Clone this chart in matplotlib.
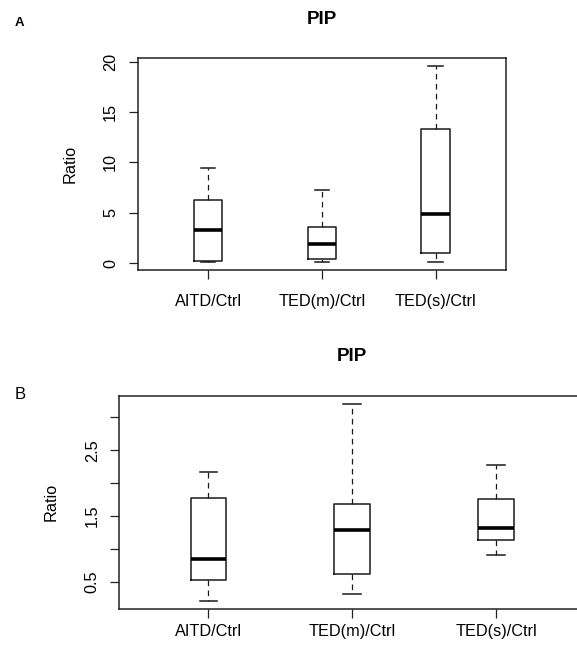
import matplotlib
matplotlib.use("Agg")
import matplotlib.pyplot as plt

plt.rcParams["font.family"] = ["Liberation Sans", "DejaVu Sans"]

groups = ["AITD/Ctrl", "TED(m)/Ctrl", "TED(s)/Ctrl"]

# panel A: whisker low, Q1, median, Q3, whisker high
a_lo = [0.10, 0.10, 0.10]
a_q1 = [0.20, 0.40, 1.05]
a_med = [3.30, 1.88, 4.86]
a_q3 = [6.28, 3.63, 13.30]
a_hi = [9.42, 7.27, 19.54]
a_ticks = [0, 5, 10, 15, 20]
a_ticklabels = ["0", "5", "10", "15", "20"]

# panel B
b_lo = [0.21, 0.31, 0.90]
b_q1 = [0.52, 0.61, 1.13]
b_med = [0.84, 1.29, 1.32]
b_q3 = [1.78, 1.68, 1.76]
b_hi = [2.17, 3.21, 2.27]
b_ticks = [0.5, 1.0, 1.5, 2.0, 2.5, 3.0]
b_ticklabels = ["0.5", "", "1.5", "", "2.5", ""]

W, H = 577, 648
fig = plt.figure(figsize=(W / 100, H / 100), dpi=100)


def px_axes(left, top, right, bottom):
    return fig.add_axes([left / W, 1 - bottom / H, (right - left) / W, (bottom - top) / H])


def draw_panel(ax, lo, q1, med, q3, hi, ticks, ticklabels, xpad):
    stats = [
        dict(whislo=l, q1=a, med=m, q3=b, whishi=h, fliers=[])
        for l, a, m, b, h in zip(lo, q1, med, q3, hi)
    ]
    ax.bxp(
        stats,
        positions=[1, 2, 3],
        widths=0.25,
        capwidths=0.125,
        showfliers=False,
        boxprops=dict(color="#1a1a1a", linewidth=1.1),
        medianprops=dict(color="black", linewidth=2.6, solid_capstyle="butt"),
        whiskerprops=dict(color="#1a1a1a", linewidth=0.9, linestyle=(0, (4.5, 3.5))),
        capprops=dict(color="#1a1a1a", linewidth=1.1),
    )
    # R-style 4% padding around the data range
    span = max(hi) - min(lo)
    ax.set_ylim(min(lo) - 0.04 * span, max(hi) + 0.04 * span)
    ax.set_xlim(0.38, 3.62)
    ax.set_xticks([1, 2, 3])
    ax.set_xticklabels(groups, fontsize=11.7)
    ax.set_yticks(ticks)
    ax.set_yticklabels(ticklabels, fontsize=11.7, rotation=90, va="center")
    ax.tick_params(axis="both", length=6.5, width=0.9, color="#222222")
    ax.tick_params(axis="y", pad=7.5)
    ax.tick_params(axis="x", pad=xpad)
    for s in ax.spines.values():
        s.set_linewidth(1.1)
        s.set_color("#222222")


# panel A
axA = px_axes(137.6, 58.3, 506, 270)
draw_panel(axA, a_lo, a_q1, a_med, a_q3, a_hi, a_ticks, a_ticklabels, 11)
fig.text(321.8 / W, 1 - 20 / H, "PIP", ha="center", va="center",
         fontsize=13.5, fontweight="bold")
fig.text(19 / W, 1 - 23 / H, "A", ha="center", va="center",
         fontsize=9.5, fontweight="bold")
fig.text(70.3 / W, 1 - 164 / H, "Ratio", ha="center", va="center",
         rotation=90, fontsize=11.7)

# panel B (right border runs off the figure)
axB = px_axes(119.3, 395.7, 585.4, 608.5)
draw_panel(axB, b_lo, b_q1, b_med, b_q3, b_hi, b_ticks, b_ticklabels, 5)
fig.text(352.3 / W, 1 - 356.7 / H, "PIP", ha="center", va="center",
         fontsize=13.5, fontweight="bold")
fig.text(20 / W, 1 - 394.5 / H, "B", ha="center", va="center", fontsize=12)
fig.text(51.5 / W, 1 - 502 / H, "Ratio", ha="center", va="center",
         rotation=90, fontsize=11.7)

fig.savefig("out.png", dpi=100)
